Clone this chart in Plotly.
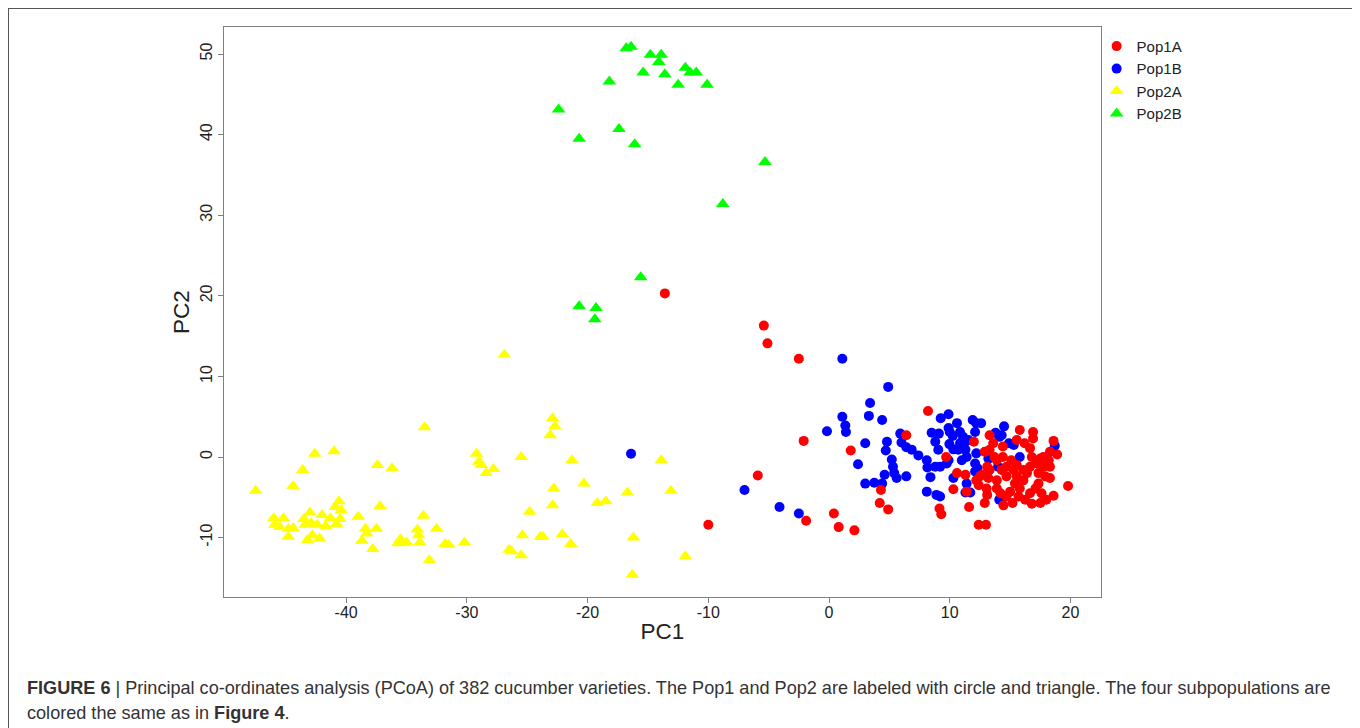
import plotly.graph_objects as go

# ---------------- data ----------------
pop1a_x = [-13.6, -5.4, -5.1, -2.5, -2.1, 1.8, -5.9, -10.0, -1.9, 0.4, 0.8, 2.1, 4.3, 4.2, 4.9,
           8.2, 6.4, 9.7, 10.6, 11.3, 10.3, 9.15, 9.3, 11.6, 12.4, 13.0, 12.0, 13.3, 13.3, 15.8,
           16.9, 16.9, 16.2, 15.55, 18.6, 18.9, 19.8, 18.6, 16.8, 17.5, 15.2, 14.45, 12.9, 13.1,
           12.4, 12.5, 13.3, 13.2, 13.9, 13.7, 14.4, 14.7, 15.3, 15.55, 16.1, 16.65, 16.8, 17.5,
           18.2, 18.3, 17.9, 18.3, 17.35, 17.6, 16.65, 15.8, 15.0, 14.2, 15.4, 14.7, 14.3, 16.1,
           16.4, 17.35, 17.1, 15.7, 13.9, 13.1, 12.7, 14.7, 16.25, 18.0, 17.75, 17.2, 15.1, 15.55,
           13.9, 12.9, 14.4, 13.6, 16.65, 18.3, 17.75, 11.4, 13.05, 12.2]
pop1a_y = [20.3, 16.3, 14.1, 12.2, 2.0, 0.8, -2.3, -8.4, -7.9, -7.0, -8.7, -9.1, -4.1, -5.7, -6.5,
           5.7, 2.7, 0.0, -2.0, -2.2, -4.0, -6.4, -7.1, -6.2, -8.4, -8.4, 1.9, 2.7, 0.9, 3.35,
           3.1, 2.3, 1.7, 2.1, 2.0, 0.3, -3.6, -4.8, -5.8, -5.7, -5.7, -6.0, -5.7, -4.7,
           -3.5, -2.4, -1.6, -2.6, -2.9, 0.0, 0.0, -1.2, -1.6, -2.4, -2.9, -1.2, 0.0, -0.2,
           -0.4, -1.2, -2.4, -2.6, -3.3, -4.5, -4.5, -3.9, -4.3, -4.5, -3.3, -2.4, -1.6, -1.6,
           -2.0, -2.0, -3.9, -4.9, -3.9, -1.2, -2.2, -4.9, -5.3, -5.3, -1.2, -0.8, -0.4, -1.0,
           -0.4, 0.65, 1.3, 1.7, 1.1, 0.65, 0.0, -4.3, -3.9, -2.9]

pop1b_x = [1.1, 4.9, 3.4, 1.1, 3.3, 4.4, 1.35, 1.4, -0.17, 3.0, 4.8, 4.7, 2.4, 4.6, 3.0, 3.75, 4.4,
           -16.4, -7.0, -4.1, -2.5,
           5.9, 6.0, 6.4, 6.85, 7.4, 5.2, 5.3, 5.4, 5.6, 6.4, 8.1, 8.15, 8.4, 8.1, 8.9, 9.2, 8.5,
           9.1, 9.25, 9.9, 8.8, 9.05, 8.8, 9.2, 9.9, 10.0, 10.6, 10.25, 9.97, 10.3, 9.9, 9.75,
           10.85, 11.1, 11.3, 10.85, 10.7, 11.3, 11.4, 11.0, 11.55, 11.9, 12.2, 12.6, 12.1, 12.2,
           12.1, 12.1, 10.3, 11.4, 11.3, 11.7, 13.8, 14.5, 14.1, 14.9, 15.3, 13.2, 14.0, 15.8,
           18.7, 14.1, 12.3, 14.3]
pop1b_y = [12.2, 8.7, 6.7, 5.0, 5.1, 4.6, 3.9, 3.1, 3.2, 1.7, 1.9, 0.8, -0.9, -2.2, -3.3, -3.2, -3.3,
           0.4, -4.1, -6.2, -7.0,
           2.9, 1.8, 1.2, 0.9, 0.2, -0.3, -1.2, -2.0, -2.6, -2.4, -0.4, -1.3, -2.5, -4.3, -4.7, -4.9, 3.0,
           2.9, 4.8, 5.3, 1.9, 0.9, -1.2, -1.2, 3.6, 3.1, 4.2, 2.6, 1.6, 0.95, -0.4, -0.8,
           3.1, 2.5, 1.9, 1.7, 0.9, 0.9, 0.0, -0.4, 2.1, 4.6, 4.2, 4.2, 3.1, 0.45,
           -0.8, -1.8, -2.6, -3.3, -4.4, -4.4, 3.0, 3.8, 2.5, 1.7, 1.5, -0.2, -1.2, 0.0,
           1.4, -5.3, -1.4, 2.7]

pop2a_x = [-47.5, -42.6, -41.0, -43.6, -44.4, -33.5, -37.4, -36.2, -37.2, -29.2, -29.0, -28.8, -28.4,
           -27.8, -25.5, -33.6, -32.5, -34.1, -34.0, -33.9, -33.1, -35.5, -35.3, -35.7, -35.0, -31.8,
           -31.5, -30.2, -39.0, -38.4, -38.3, -37.5, -38.7, -37.8, -26.5, -26.3, -25.5, -25.4, -24.8,
           -23.9,
           -46.0, -45.9, -45.2, -45.5, -44.8, -44.4, -44.8, -43.5, -43.0, -43.4, -42.9, -42.4, -42.0,
           -41.7, -41.3, -42.8, -43.2, -42.2, -40.9, -40.6, -40.4, -40.5, -40.8,
           -22.9, -22.7, -23.1, -21.3, -20.3, -22.8, -22.9, -19.2, -18.5, -16.7, -13.9, -13.1, -23.7,
           -22.1, -21.4, -16.2, -11.9, -16.3, -26.9]
pop2a_y = [-4.2, 0.4, 0.7, -1.6, -3.6, 3.7, -1.0, -1.4, -6.1, 0.4, -0.6, -1.0, -2.0,
           -1.5, 0.0, -7.3, -8.9, -9.0, -9.7, -10.6, -12.8, -10.2, -10.6, -10.7, -10.6, -10.8,
           -10.9, -10.6, -7.4, -8.9, -9.5, -8.9, -10.4, -11.4, -11.5, -11.7, -12.2, -9.7, -6.8,
           -9.9,
           -7.6, -8.4, -7.6, -8.7, -8.9, -8.8, -9.9, -7.7, -6.9, -8.4, -8.2, -8.4, -7.2,
           -8.6, -7.6, -9.7, -10.3, -10.1, -6.2, -5.5, -6.6, -7.7, -8.3,
           4.8, 3.8, 2.7, -0.4, -3.3, -3.9, -6.0, -5.7, -5.5, -4.4, -0.4, -4.2, -9.9,
           -9.6, -10.8, -10.0, -12.3, -14.6, 12.7]

pop2b_x = [-16.8, -16.4, -14.8, -13.9, -14.1, -15.4, -13.6, -18.2, -11.9, -11.5, -11.0, -12.5,
           -10.1, -22.4, -17.4, -20.7, -16.1, -5.3, -8.8, -15.6, -20.7, -19.3, -19.4]
pop2b_y = [50.7, 50.9, 49.9, 49.9, 49.0, 47.7, 47.5, 46.6, 48.3, 47.7, 47.7, 46.2,
           46.2, 43.1, 40.7, 39.5, 38.8, 36.6, 31.4, 22.3, 18.7, 18.5, 17.1]

groups = ["Pop1A", "Pop1B", "Pop2A", "Pop2B"]
colors = ["#FF0000", "#0000FF", "#FFFF00", "#00FF00"]
x_ticks = [-40, -30, -20, -10, 0, 10, 20]
y_ticks = [-10, 0, 10, 20, 30, 40, 50]

FONT = "Liberation Sans, Arial, sans-serif"

fig = go.Figure()
# draw blue first, red on top
order = [(1, pop1b_x, pop1b_y, "circle", 10), (0, pop1a_x, pop1a_y, "circle", 10),
         (2, pop2a_x, pop2a_y, "triangle-up", 12), (3, pop2b_x, pop2b_y, "triangle-up", 12)]
for gi, xs, ys, sym, sz in order:
    fig.add_trace(go.Scatter(
        x=xs, y=ys, mode="markers", name=groups[gi], legendrank=gi + 1,
        marker=dict(symbol=sym, size=sz, color=colors[gi], line=dict(width=0)),
    ))

fig.update_layout(
    width=1352, height=720,
    margin=dict(l=216, r=259, t=19, b=131),
    paper_bgcolor="white", plot_bgcolor="white",
    font=dict(family=FONT, color="#222222"),
    showlegend=True,
    legend=dict(x=0.995, y=0.995, xanchor="left", yanchor="top",
                font=dict(size=15, family=FONT, color="#222222"),
                bgcolor="rgba(0,0,0,0)", borderwidth=0, itemwidth=30,
                tracegroupgap=0),
)
fig.update_xaxes(
    range=[-50.12, 22.53], tickvals=x_ticks, ticktext=[str(v) for v in x_ticks],
    showgrid=False, zeroline=False, showline=True, mirror=True,
    linecolor="#7f7f7f", linewidth=1.2, ticks="outside", ticklen=5, tickcolor="#7f7f7f",
    ticklabelstandoff=-4,
    tickfont=dict(size=16, family=FONT, color="#222222"),
    title=dict(text="PC1", font=dict(size=22.5, family=FONT, color="#222222"), standoff=2),
)
fig.update_yaxes(
    range=[-17.37, 53.35], tickvals=y_ticks, ticktext=[str(v) for v in y_ticks],
    showgrid=False, zeroline=False, showline=True, mirror=True,
    linecolor="#7f7f7f", linewidth=1.2, ticks="outside", ticklen=5, tickcolor="#7f7f7f",
    tickangle=-90,
    tickfont=dict(size=16, family=FONT, color="#222222"),
    title=dict(text="PC2", font=dict(size=22.5, family=FONT, color="#222222"), standoff=1),
)

# outer figure frame
fig.add_shape(type="rect", xref="paper", yref="paper",
              x0=-0.2463, x1=1.2885, y0=-0.35, y1=1.0333,
              line=dict(color="#555555", width=2), fillcolor="rgba(0,0,0,0)", layer="below")

# caption
fig.add_annotation(xref="paper", yref="paper", x=-0.2269, y=-0.1596, xanchor="left", yanchor="middle",
                   showarrow=False, align="left",
                   text="<b>FIGURE 6</b> | Principal co-ordinates analysis (PCoA) of 382 cucumber varieties. "
                        "The Pop1 and Pop2 are labeled with circle and triangle. The four subpopulations are",
                   font=dict(size=18.1, family=FONT, color="#333333"))
fig.add_annotation(xref="paper", yref="paper", x=-0.2269, y=-0.2035, xanchor="left", yanchor="middle",
                   showarrow=False, align="left",
                   text="colored the same as in <b>Figure 4</b>.",
                   font=dict(size=18.1, family=FONT, color="#333333"))

fig.write_html("out.html")
